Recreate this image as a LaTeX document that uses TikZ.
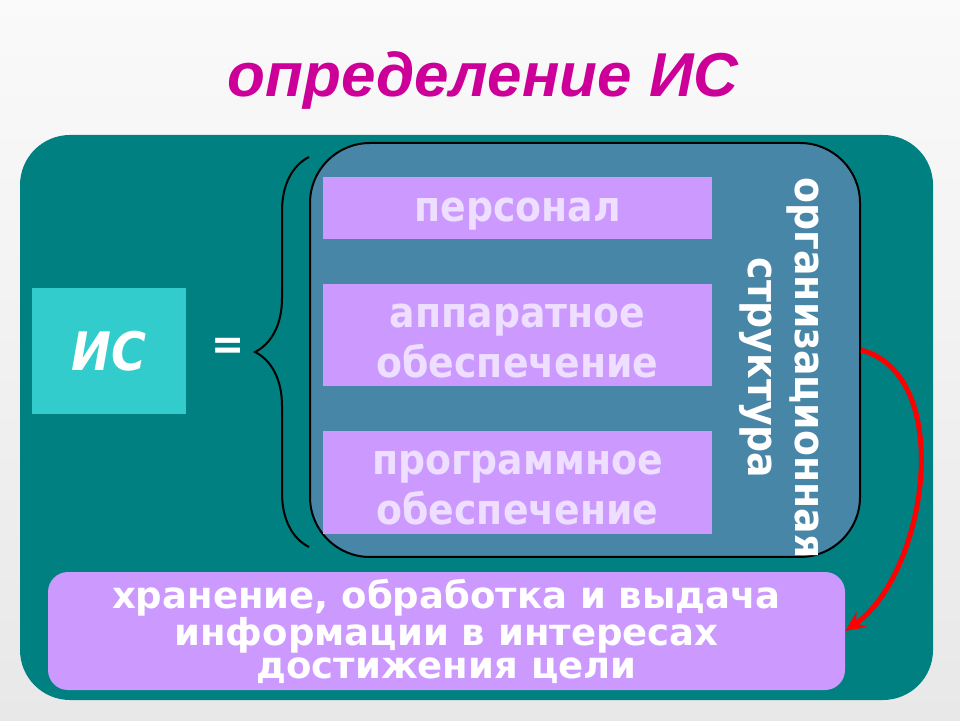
\documentclass[tikz,border=0pt]{standalone}
\usepackage{fontspec}
\setmainfont{DejaVu Sans Condensed}
\newfontfamily\titlefont{Liberation Sans}
\newfontfamily\goalfont{DejaVu Sans}
\usetikzlibrary{arrows.meta,decorations.pathreplacing}

\definecolor{tealbg}{RGB}{0,128,128}
\definecolor{orgblue}{RGB}{72,134,168}
\definecolor{lilac}{RGB}{204,153,255}
\definecolor{lilactext}{RGB}{238,222,255}
\definecolor{isblue}{RGB}{51,204,204}
\definecolor{titlemag}{RGB}{204,0,153}

\tikzset{
  partbox/.style={fill=lilac, minimum width=389pt, inner sep=0pt},
  parttext/.style={align=center, text=lilactext, font=\fontsize{42}{50}\selectfont\bfseries},
  redarrow/.style={draw=red, line width=5pt, -{Stealth[length=20pt,width=18pt]}}
}

\begin{document}
\begin{tikzpicture}[x=1pt,y=1pt]
  % slide background
  \shade[top color=white!98!black, bottom color=white!91!black] (0,0) rectangle (960,720);
  \useasboundingbox (0,0) rectangle (960,720);

  \node[text=titlemag, font=\titlefont\fontsize{62}{70}\selectfont\bfseries\itshape]
    (title) at (483,640) {определение ИС};

  % teal panel
  \fill[tealbg, rounded corners=50pt] (20,20) rectangle (933,585);

  % left part: IS =
  \node[fill=isblue, minimum width=154pt, minimum height=126pt, text=white,
    font=\fontsize{53}{60}\selectfont\bfseries\itshape] (is) at (109,369) {ИС};
  \node[text=white, font=\fontsize{44}{50}\selectfont\bfseries] (eq) at (228,371) {=};

  % organisational structure
  \node[draw=black, line width=2pt, fill=orgblue, rounded corners=60pt,
    minimum width=550pt, minimum height=414pt] (org) at (585,370) {};
  \draw[line width=2pt, decorate, decoration={brace, amplitude=54pt}]
    (309,173) -- (309,563);

  \foreach \name/\y/\h/\txt in {personal/512/62/{персонал},
      hardware/385/102/{аппаратное\\обеспечение},
      software/237.5/103/{программное\\обеспечение}} {
    \node[partbox, minimum height=\h pt] (\name) at (517.5,\y) {};
    \node[parttext] (\name text) at ([yshift=-6pt]\name.center) {\txt};
  }

  \node[rotate=-90, text=white, align=center,
    font=\fontsize{42}{47}\selectfont\bfseries] (orglabel) at (779,352)
    {организационная\\структура};

  % goal
  \node[fill=lilac, rounded corners=20pt, minimum width=797pt, minimum height=118pt,
    text=white, align=center, font=\goalfont\fontsize{37}{33}\selectfont\bfseries]
    (goal) at (446.5,89)
    {хранение, обработка и выдача\\информации в интересах\\достижения цели};

  \draw[redarrow] (org.east) to[out=-15, in=35, looseness=0.9] (goal.east);
\end{tikzpicture}
\end{document}
